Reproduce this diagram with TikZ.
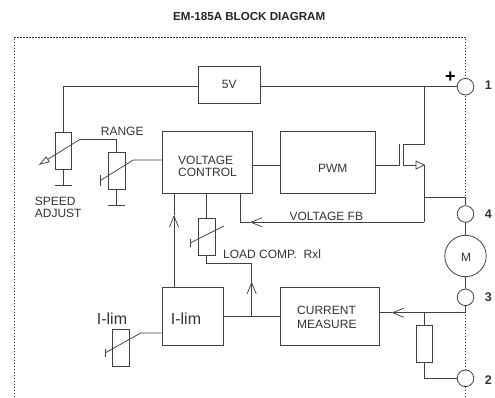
\documentclass[tikz,border=0pt]{standalone}
\usepackage{fontspec}
\setmainfont{Liberation Sans}
\usetikzlibrary{arrows.meta}

\tikzset{
  wire/.style={draw=black!75,line width=0.75pt},
  barb/.style={wire,-{Straight Barb[length=11pt,width=9pt]}},
  border/.style={draw=black!80,line width=0.75pt,dash pattern=on 1.5pt off 1.5pt},
  blockbox/.style={draw=black!75,line width=0.8pt,minimum width=#1,minimum height=61.6pt,inner sep=0pt},
  resbox/.style={draw=black!75,line width=0.8pt,minimum width=16.6pt,minimum height=37pt,inner sep=0pt},
  terminal/.style={circle,draw=black!75,fill=white,line width=0.8pt,minimum size=16.6pt,inner sep=0pt},
  label/.style={text=black!80,font=\fontsize{12}{12.7}\selectfont,inner sep=0pt,align=left},
  pinlabel/.style={text=black!80,font=\fontsize{12.5}{13}\bfseries\selectfont,inner sep=0pt}
}

\begin{document}
\begin{tikzpicture}[x=1pt,y=-1pt]
  \useasboundingbox (0,0) rectangle (495,397);

  \node[text=black!85,font=\fontsize{11.6}{12}\bfseries\selectfont,inner sep=0pt] (title) at (249.2,17) {EM-185A BLOCK DIAGRAM};

  % dotted frame
  \coordinate (frameBL) at (14,397);
  \coordinate (frameTL) at (14,37);
  \coordinate (frameTR) at (465.5,37);
  \coordinate (frameBR) at (465.5,397);
  \draw[border] (frameBL) -- (frameTL) -- (frameTR) -- (frameBR);

  % blocks
  \node[blockbox=61.6pt,minimum height=37pt,label] (reg) at (229.3,84.5) {5V};
  \node[blockbox=90.3pt] (vc) at (207.2,162.5) {};
  \node[blockbox=95pt] (pwm) at (328.2,162.5) {};
  \node[blockbox=61.7pt,minimum height=57.6pt] (lim) at (192.9,316.5) {};
  \node[blockbox=98.6pt,minimum height=57.6pt] (cur) at (330,316.5) {};

  \node[label,anchor=west] (vctext) at (178,166.3) {VOLTAGE\\CONTROL};
  \node[label] (pwmtext) at (332.7,168) {PWM};
  \node[label,anchor=west,font=\fontsize{16}{18}\selectfont] (limtext) at (170.7,319) {I-lim};
  \node[label,anchor=west,font=\fontsize{12}{14}\selectfont] (curtext) at (297,317.7) {CURRENT\\MEASURE};

  % terminals
  \node[terminal] (t1) at (465.5,86.7) {};
  \node[terminal] (t4) at (465.5,214) {};
  \node[terminal] (t3) at (465.5,297.3) {};
  \node[terminal] (t2) at (465.5,378.3) {};
  \node[terminal,minimum size=41.4pt] (motor) at (465.5,256) {};
  \node[label] (mtext) at (466,257) {M};
  \node[pinlabel] (p1) at (488.3,85) {1};
  \node[pinlabel] (p4) at (488.3,214) {4};
  \node[pinlabel] (p3) at (488.3,297) {3};
  \node[pinlabel] (p2) at (488.3,380) {2};
  \node[text=black,font=\fontsize{18}{18}\bfseries\selectfont,inner sep=0pt] (plus) at (450.3,77) {+};

  % resistors
  \node[resbox] (speed) at (63.2,150.4) {};
  \node[resbox] (range) at (116.7,170.8) {};
  \node[resbox] (comp) at (206.8,236.6) {};
  \node[resbox] (ilimpot) at (121,347.4) {};
  \node[resbox] (shunt) at (424.3,343.4) {};

  % labels
  \node[label,anchor=west] (rangetext) at (100.7,131) {RANGE};
  \node[label,anchor=west] (speedtext) at (34.7,207.3) {SPEED\\ADJUST};
  \node[label,anchor=west] (fbtext) at (289.3,216.7) {VOLTAGE FB};
  \node[label,anchor=west] (comptext) at (223,254) {LOAD COMP.\ \ Rxl};
  \node[label,anchor=center,font=\fontsize{16}{18}\selectfont] (limpottext) at (112,319) {I-lim};

  % supply rail and mosfet
  \coordinate (railtap) at (424.3,86.7);
  \coordinate (drain) at (424.3,144.7);
  \coordinate (source) at (424.3,165);
  \coordinate (fbtap) at (424.3,197.7);
  \coordinate (fbend) at (424.3,222.3);
  \coordinate (gateT) at (399.3,144.3);
  \coordinate (gateB) at (399.3,165);
  \coordinate (chanT) at (403.3,144.7);
  \coordinate (chanB) at (403.3,165);
  \coordinate (srcbase) at (416,165);
  \draw[wire] (reg.east |- t1) -- (t1.west);
  \draw[wire] (reg.west |- t1) -- (63.2,86.7) -- (speed.north);
  \draw[wire] (railtap) -- (drain) -- (chanT) -- (chanB) -- (srcbase);
  \draw[wire] (pwm.east |- gateB) -- (gateB) -- (gateT);
  \draw[wire,fill=white] (srcbase) -- ++(0,-4) -- (source) -- (416,169) -- cycle;
  \draw[wire] (source) -- (fbend);
  \draw[wire] (fbtap) -- (fbtap -| t4) -- (t4.north);
  \draw[wire] (vc.east |- gateB) -- (pwm.west |- gateB);

  % voltage feedback
  \coordinate (fbleft) at (240,222.3);
  \coordinate (fbtip) at (250,222.3);
  \draw[barb] (fbend) -- (fbtip);
  \draw[wire] (fbtip) -- (fbleft) -- (fbleft |- vc.south);

  % motor and terminals
  \draw[wire] (t4.south) -- (motor.north);
  \draw[wire] (motor.south) -- (t3.north);
  \coordinate (sensetap) at (424.3,312.7);
  \coordinate (t3foot) at (465.5,312.7);
  \coordinate (sensetip) at (391.7,312.7);
  \draw[wire] (t3.south) -- (t3foot) -- (sensetap);
  \draw[wire] (sensetap) -- (shunt.north);
  \draw[wire] (shunt.south) |- (t2.west);
  \draw[barb] (sensetap) -- (sensetip);
  \draw[wire] (sensetip) -- (cur.east |- sensetap);

  % current limit
  \coordinate (limup) at (174,287.7);
  \coordinate (limtip) at (174,215);
  \draw[barb] (limup) -- (limtip);
  \draw[wire] (limtip) -- (limtip |- vc.south);
  \coordinate (comptap) at (251.7,316.7);
  \coordinate (comptip) at (251.7,281.7);
  \coordinate (compfoot) at (251.7,263.3);
  \draw[wire] (lim.east |- comptap) -- (cur.west |- comptap);
  \draw[barb] (comptap) -- (comptip);
  \draw[wire] (comptip) -- (compfoot) -| (comp.south);
  \draw[wire] (comp.north) -- (comp.north |- vc.south);

  % wipers
  \coordinate (speedwipe) at (80,139.3);
  \coordinate (speedtip) at (38.7,165);
  \draw[wire] (speedwipe) -- (116.7,139.3) -- (range.north);
  \draw[wire,-{Triangle[open,length=11pt,width=6.5pt]}] (speedwipe) -- (speedtip);
  \coordinate (speedgnd) at (63.2,185);
  \draw[wire] (speed.south) -- (speedgnd);
  \draw[wire] (55,185) -- (71.5,185);

  \coordinate (rangewipe) at (133.3,160);
  \coordinate (rangetee) at (100,180.7);
  \draw[wire] (vc.west |- rangewipe) -- (rangewipe) -- (rangetee);
  \draw[wire] (100,175) -- (100,186);
  \coordinate (rangegnd) at (116.7,205.7);
  \draw[wire] (range.south) -- (rangegnd);
  \draw[wire] (108.3,205.7) -- (125,205.7);

  \coordinate (compwipe) at (224,226);
  \coordinate (comptee) at (190.7,242.7);
  \draw[wire] (compwipe) -- (comptee);
  \draw[wire] (190.7,239) -- (190.7,246.7);

  \coordinate (limwipe) at (140.7,333);
  \coordinate (limtee) at (105,353);
  \draw[wire] (lim.west |- limwipe) -- (limwipe) -- (limtee);
  \draw[wire] (105,349) -- (105,357);
\end{tikzpicture}
\end{document}
